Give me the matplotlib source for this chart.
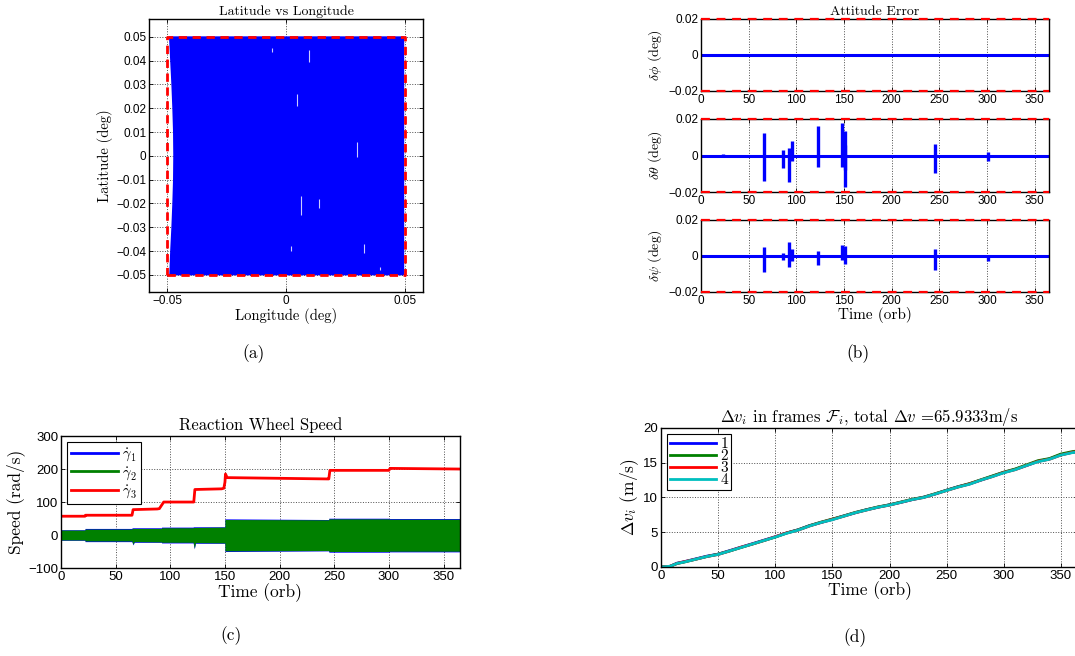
import matplotlib
matplotlib.use('Agg')
import matplotlib.pyplot as plt
from matplotlib.ticker import FuncFormatter

plt.rcParams['font.family'] = 'Liberation Sans'
plt.rcParams['mathtext.fontset'] = 'cm'
plt.rcParams['axes.linewidth'] = 1.0
SERIF = 'cmr10'

# (a) latitude / longitude envelope of the dense track
lat_env = [-0.0502, -0.04, -0.03, -0.02, -0.01, 0.0, 0.01, 0.02, 0.03, 0.04, 0.0502]
lon_left = [-0.0491, -0.0487, -0.0482, -0.0478, -0.0475, -0.0474, -0.0475, -0.0478, -0.0482, -0.0487, -0.0492]
lon_right = [0.0497, 0.0497, 0.0497, 0.0497, 0.0497, 0.0497, 0.0497, 0.0497, 0.0497, 0.0497, 0.0497]
streak_lon = [0.0095, 0.0045, 0.030, -0.006, 0.033, 0.0065, 0.014, 0.0395, 0.002]
streak_lat0 = [0.0395, 0.021, -0.0005, 0.0435, -0.041, -0.025, -0.022, -0.048, -0.040]
streak_lat1 = [0.0445, 0.026, 0.0060, 0.0455, -0.037, -0.017, -0.018, -0.0465, -0.038]
box_lon = [-0.05, 0.05, 0.05, -0.05, -0.05]
box_lat = [-0.05, -0.05, 0.05, 0.05, -0.05]

# (b) attitude error bursts: time, min, max
orbit_span = [0, 365]
theta_t = [22.8, 66.2, 86.5, 92.5, 95.0, 122.6, 147.5, 148.5, 150.7, 151.5, 245.0, 301.3]
theta_lo = [-0.001, -0.0138, -0.0068, -0.0144, -0.003, -0.0061, -0.0062, -0.004, -0.0171, -0.008, -0.0098, -0.0028]
theta_hi = [0.0008, 0.0123, 0.0030, 0.0040, 0.0079, 0.0164, 0.0179, 0.012, 0.0133, 0.006, 0.0065, 0.0018]
psi_t = [66.2, 86.5, 92.5, 95.0, 122.6, 147.5, 150.7, 245.0, 301.3]
psi_lo = [-0.0087, -0.002, -0.0059, -0.003, -0.0048, -0.0022, -0.0046, -0.0077, -0.0028]
psi_hi = [0.0048, 0.0018, 0.0077, 0.004, 0.0030, 0.0060, 0.0058, 0.0040, 0.0006]
err_bound = 0.02

# (c) reaction wheel speeds
rw_t = [0, 22, 22, 65, 65, 66, 67, 92, 92, 121, 121, 122, 123, 150, 150, 245, 245, 300, 300, 365]
g1_hi = [16, 16, 20, 20, 22, 22, 22, 22, 24, 24, 25, 25, 25, 25, 49, 47, 51, 51, 50, 50]
g1_lo = [-16, -16, -20, -20, -22, -30, -22, -22, -24, -24, -25, -42, -25, -25, -50, -48, -52, -52, -51, -51]
g2_hi = [15, 15, 18, 18, 20, 20, 20, 20, 22, 22, 23, 23, 23, 24, 47, 46, 49, 49, 48, 48]
g2_lo = [-15, -15, -18, -18, -20, -28, -20, -21, -22, -22, -23, -40, -23, -24, -48, -47, -50, -50, -49, -49]
g3_t = [0, 22, 22.5, 65, 66, 88, 90, 92, 94, 121.5, 122.5, 147, 149, 150, 150.5, 152, 244, 245, 246, 300, 301, 365]
g3_v = [57, 57, 60, 60, 77, 79, 80, 90, 100, 100, 138, 140, 142, 160, 185, 174, 170, 170, 196, 196, 202, 200]

# (d) delta-v per frame
dv_t = [0, 8, 14, 20, 30, 40, 50, 60, 70, 80, 90, 100, 110, 120, 130, 140, 150, 160, 170, 180,
        190, 200, 210, 220, 230, 240, 250, 260, 270, 280, 290, 300, 310, 320, 330, 340, 350, 360, 365]
dv1 = [0, 0.1, 0.55, 0.75, 1.15, 1.55, 1.85, 2.35, 2.85, 3.35, 3.85, 4.35, 4.9, 5.35, 5.95, 6.4, 6.85, 7.35, 7.8, 8.25,
       8.6, 8.95, 9.3, 9.7, 10.05, 10.5, 11.05, 11.55, 11.95, 12.5, 13.05, 13.6, 14.05, 14.6, 15.2, 15.55, 16.15, 16.5, 16.6]
dv2 = [0, 0.1, 0.5, 0.7, 1.1, 1.5, 1.85, 2.3, 2.8, 3.3, 3.8, 4.3, 4.9, 5.35, 5.95, 6.45, 6.9, 7.35, 7.85, 8.25,
       8.65, 8.95, 9.35, 9.75, 10.05, 10.55, 11.05, 11.55, 12.0, 12.55, 13.1, 13.65, 14.1, 14.7, 15.3, 15.6, 16.25, 16.6, 16.7]
dv3 = [0, 0.1, 0.5, 0.75, 1.1, 1.5, 1.8, 2.3, 2.85, 3.3, 3.8, 4.35, 4.9, 5.3, 5.9, 6.4, 6.85, 7.3, 7.8, 8.2,
       8.6, 8.9, 9.3, 9.7, 10.0, 10.5, 11.0, 11.5, 11.95, 12.5, 13.0, 13.6, 14.0, 14.6, 15.2, 15.5, 16.1, 16.5, 16.6]
dv4 = [0, 0.1, 0.5, 0.7, 1.1, 1.5, 1.8, 2.3, 2.8, 3.3, 3.8, 4.3, 4.85, 5.3, 5.9, 6.4, 6.8, 7.3, 7.8, 8.2,
       8.6, 8.9, 9.3, 9.7, 10.0, 10.5, 11.0, 11.5, 11.9, 12.5, 13.0, 13.55, 14.0, 14.6, 15.15, 15.5, 16.1, 16.45, 16.55]

BLUE, GREEN, RED, CYAN = '#0000ff', '#008000', '#ff0000', '#00bfbf'


def tick_fmt(v, pos):
    v = round(v, 6) + 0.0
    return ('%g' % v).replace('-', '\u2212')


def style(ax, size):
    ax.tick_params(direction='in', top=True, right=True, length=3, width=0.6,
                   labelsize=size, pad=2)
    ax.grid(True, linestyle=':', color='0.3', linewidth=0.7)
    ax.set_axisbelow(True)
    ax.xaxis.set_major_formatter(FuncFormatter(tick_fmt))
    ax.yaxis.set_major_formatter(FuncFormatter(tick_fmt))


fig = plt.figure(figsize=(10.75, 6.56), dpi=100)

# ---- (a)
ax = fig.add_axes([0.1386, 0.5549, 0.2549, 0.4162])
ax.fill(lon_left + lon_right[::-1], lat_env + lat_env[::-1], color=BLUE, lw=0)
ax.vlines(streak_lon, streak_lat0, streak_lat1, color='white', lw=0.8, alpha=0.8)
ax.plot(box_lon, box_lat, '--', color=RED, lw=2, dashes=(3, 2))
ax.set_xlim(-0.0576, 0.0576)
ax.set_ylim(-0.0572, 0.0575)
ax.set_xticks([-0.05, 0, 0.05])
ax.set_yticks([-0.05, -0.04, -0.03, -0.02, -0.01, 0, 0.01, 0.02, 0.03, 0.04, 0.05])
style(ax, 8.5)
ax.set_title('Latitude vs Longitude', fontfamily=SERIF, fontsize=10, pad=3)
ax.set_xlabel('Longitude (deg)', fontfamily=SERIF, fontsize=10.5, labelpad=1)
ax.set_ylabel('Latitude (deg)', fontfamily=SERIF, fontsize=10.5, labelpad=2)

# ---- (b)
b_rows = [(0.8613, 0.1098), (0.7073, 0.1113), (0.5549, 0.1098)]
b_labels = [r'$\delta\phi$ (deg)', r'$\delta\theta$ (deg)', r'$\delta\psi$ (deg)']
bursts = [None, (theta_t, theta_lo, theta_hi), (psi_t, psi_lo, psi_hi)]
for i, (bot, h) in enumerate(b_rows):
    ax = fig.add_axes([0.6521, bot, 0.3237, h])
    ax.plot(orbit_span, [0, 0], color=BLUE, lw=2.2)
    if bursts[i] is not None:
        t, lo, hi = bursts[i]
        ax.vlines(t, lo, hi, color=BLUE, lw=2.4)
    for yb in (err_bound, -err_bound):
        ax.plot(orbit_span, [yb, yb], '--', color=RED, lw=1.6, dashes=(4, 3),
                clip_on=False, zorder=5)
    ax.set_xlim(0, 365)
    ax.set_ylim(-0.02, 0.02)
    ax.set_xticks(range(0, 351, 50))
    ax.set_yticks([-0.02, 0, 0.02])
    style(ax, 8.5)
    ax.set_ylabel(b_labels[i], fontfamily=SERIF, fontsize=10, labelpad=3)
    if i == 0:
        ax.set_title('Attitude Error', fontfamily=SERIF, fontsize=10, pad=3)
    if i == 2:
        ax.set_xlabel('Time (orb)', fontfamily=SERIF, fontsize=11, labelpad=0)

# ---- (c)
ax = fig.add_axes([0.0567, 0.1341, 0.3712, 0.2012])
ax.fill_between(rw_t, g1_lo, g1_hi, color=BLUE, lw=0)
ax.fill_between(rw_t, g2_lo, g2_hi, color=GREEN, lw=0)
ax.plot([], [], color=BLUE, lw=2, label=r'$\dot{\gamma}_1$')
ax.plot([], [], color=GREEN, lw=2, label=r'$\dot{\gamma}_2$')
ax.plot(g3_t, g3_v, color=RED, lw=2, label=r'$\dot{\gamma}_3$')
ax.set_xlim(0, 365)
ax.set_ylim(-100, 300)
ax.set_xticks(range(0, 351, 50))
ax.set_yticks([-100, 0, 100, 200, 300])
style(ax, 9.5)
leg = ax.legend(loc='upper left', prop={'family': SERIF, 'size': 10.5}, fancybox=False,
                edgecolor='black', framealpha=1, handlelength=3.2, borderpad=0.3,
                labelspacing=0.1, borderaxespad=0.4, handletextpad=0.3)
leg.get_frame().set_linewidth(0.8)
ax.set_title('Reaction Wheel Speed', fontfamily=SERIF, fontsize=12, pad=4)
ax.set_xlabel('Time (orb)', fontfamily=SERIF, fontsize=12.5, labelpad=0)
ax.set_ylabel('Speed (rad/s)', fontfamily=SERIF, fontsize=12.5, labelpad=2)

# ---- (d)
ax = fig.add_axes([0.6149, 0.1357, 0.3879, 0.2119])
for vals, c, lab in [(dv1, BLUE, '1'), (dv2, GREEN, '2'), (dv3, RED, '3'), (dv4, CYAN, '4')]:
    ax.plot(dv_t, vals, color=c, lw=2, label=lab)
ax.set_xlim(0, 365)
ax.set_ylim(0, 20)
ax.set_xticks(range(0, 351, 50))
ax.set_yticks([0, 5, 10, 15, 20])
style(ax, 9.5)
leg = ax.legend(loc='upper left', prop={'family': SERIF, 'size': 11}, fancybox=False,
                edgecolor='black', framealpha=1, handlelength=3.0, borderpad=0.2,
                labelspacing=-0.1, borderaxespad=0.4, handletextpad=0.3)
leg.get_frame().set_linewidth(0.8)
ax.set_title(r'$\Delta v_i$ in frames $\mathcal{F}_i$, total $\Delta v$ =65.9333m/s',
             fontfamily=SERIF, fontsize=12, pad=4)
ax.set_xlabel('Time (orb)', fontfamily=SERIF, fontsize=12.5, labelpad=0)
ax.set_ylabel(r'$\Delta v_i$ (m/s)', fontfamily=SERIF, fontsize=12.5, labelpad=2)

# sub-figure captions
for x, y, s in [(0.2363, 0.4604, '(a)'), (0.7981, 0.4604, '(b)'),
                (0.2149, 0.0305, '(c)'), (0.7953, 0.0274, '(d)')]:
    fig.text(x, y, s, fontfamily=SERIF, fontsize=12.5, ha='center', va='center')

fig.savefig('out.png', dpi=100)
